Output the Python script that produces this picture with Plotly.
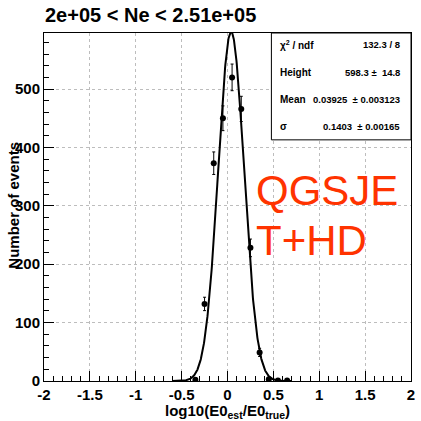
import numpy as np
import plotly.graph_objects as go

# Histogram of log10(E0_est/E0_true) for 2e+05 < Ne < 2.51e+05
bin_centers = [-0.35, -0.25, -0.15, -0.05, 0.05, 0.15, 0.25, 0.35, 0.45, 0.55, 0.65]
counts = [2, 132, 373, 450, 520, 466, 228, 49, 3, 1, 1]

# Gaussian fit results
fit_height = 598.3
fit_height_err = 14.8
fit_mean = 0.03925
fit_mean_err = 0.003123
fit_sigma = 0.1403
fit_sigma_err = 0.00165
chi2 = 132.3
ndf = 8

x_tick_vals = [-2, -1.5, -1, -0.5, 0, 0.5, 1, 1.5, 2]
x_tick_text = ["-2", "-1.5", "-1", "-0.5", "0", "0.5", "1", "1.5", "2"]
y_tick_vals = [0, 100, 200, 300, 400, 500]

FONT = "Liberation Sans, Arial, Helvetica, sans-serif"

errors = [np.sqrt(c) for c in counts]

xf = np.linspace(-0.6, 0.7, 400)
yf = fit_height * np.exp(-0.5 * ((xf - fit_mean) / fit_sigma) ** 2)

fig = go.Figure()
fig.add_trace(go.Scatter(
    x=xf, y=yf, mode="lines",
    line=dict(color="black", width=2),
    hoverinfo="skip", showlegend=False, cliponaxis=True,
))
fig.add_trace(go.Scatter(
    x=bin_centers, y=counts, mode="markers",
    marker=dict(color="black", size=6),
    error_y=dict(type="data", array=errors, visible=True,
                 color="black", thickness=1, width=1.5),
    showlegend=False,
))

W = H = 421
ml, mr, mt, mb = 43.5, 5.5, 33, 39.5
pw = W - ml - mr
ph = H - mt - mb


def px(xp):
    return (xp - ml) / pw


def py(yp):
    return (H - mb - yp) / ph


grid = dict(showgrid=True, gridcolor="#bdbdbd", griddash="dot", gridwidth=1)

fig.update_xaxes(
    range=[-2, 2], tickvals=x_tick_vals, ticktext=x_tick_text,
    ticks="inside", ticklen=10, tickcolor="black", tickwidth=1,
    minor=dict(ticks="inside", dtick=0.1, ticklen=5, tickcolor="black", showgrid=False),
    showline=True, linecolor="black", linewidth=1, mirror=True,
    zeroline=False,
    tickfont=dict(family=FONT, size=15, color="black", weight="bold"),
    **grid,
)
fig.update_yaxes(
    range=[0, 596], tickvals=y_tick_vals,
    ticks="inside", ticklen=10, tickcolor="black", tickwidth=1,
    minor=dict(ticks="inside", dtick=20, ticklen=5, tickcolor="black", showgrid=False),
    showline=True, linecolor="black", linewidth=1, mirror=True,
    zeroline=False,
    tickfont=dict(family=FONT, size=15, color="black", weight="bold"),
    **grid,
)

# Fit statistics box
fig.add_shape(type="rect", xref="paper", yref="paper",
              x0=px(274), x1=1, y0=py(140), y1=1,
              line=dict(color="black", width=1), fillcolor="white", layer="above")

name_font = dict(family=FONT, size=10, color="black", weight="bold")
value_font = dict(family=FONT, size=9.5, color="black", weight="bold")
stats_rows = [
    ("χ<sup>2</sup> / ndf", f"{chi2:.1f} / {ndf}", 45),
    ("Height", f"{fit_height:.1f} ±  {fit_height_err:.1f}", 73),
    ("Mean", f"{fit_mean:.5f}  ± {fit_mean_err:.6f}", 100),
    ("σ", f"{fit_sigma:.4f}  ± {fit_sigma_err:.5f}", 127),
]
annotations = []
for name, val, ypix in stats_rows:
    annotations.append(dict(x=px(281), y=py(ypix), xref="paper", yref="paper",
                            text=name, showarrow=False, xanchor="left",
                            yanchor="middle", font=name_font))
    annotations.append(dict(x=px(406), y=py(ypix), xref="paper", yref="paper",
                            text=val, showarrow=False, xanchor="right",
                            yanchor="middle", font=value_font))

# Title and axis titles
annotations.append(dict(x=px(42), y=py(15), xref="paper", yref="paper",
                        text="2e+05 < Ne < 2.51e+05", showarrow=False,
                        xanchor="left", yanchor="middle",
                        font=dict(family=FONT, size=20, color="black", weight="bold")))
annotations.append(dict(x=px(230), y=py(412), xref="paper", yref="paper",
                        text="log10(E0<sub>est</sub>/E0<sub>true</sub>)", showarrow=False,
                        xanchor="center", yanchor="middle",
                        font=dict(family=FONT, size=15, color="black", weight="bold")))
annotations.append(dict(x=px(13), y=py(205), xref="paper", yref="paper",
                        text="Number of events", showarrow=False, textangle=-90,
                        xanchor="center", yanchor="middle",
                        font=dict(family=FONT, size=15, color="black", weight="bold")))

# Model label
red_font = dict(family=FONT, size=42, color="#ff3300")
annotations.append(dict(x=px(256), y=py(191), xref="paper", yref="paper",
                        text="QGSJE", showarrow=False, xanchor="left",
                        yanchor="middle", font=red_font))
annotations.append(dict(x=px(256), y=py(241), xref="paper", yref="paper",
                        text="T+HD", showarrow=False, xanchor="left",
                        yanchor="middle", font=red_font))

fig.update_layout(
    width=W, height=H,
    margin=dict(l=ml, r=mr, t=mt, b=mb, pad=0),
    paper_bgcolor="white", plot_bgcolor="white",
    annotations=annotations,
    showlegend=False,
)

fig.write_html("out.html", config={"displayModeBar": False})
